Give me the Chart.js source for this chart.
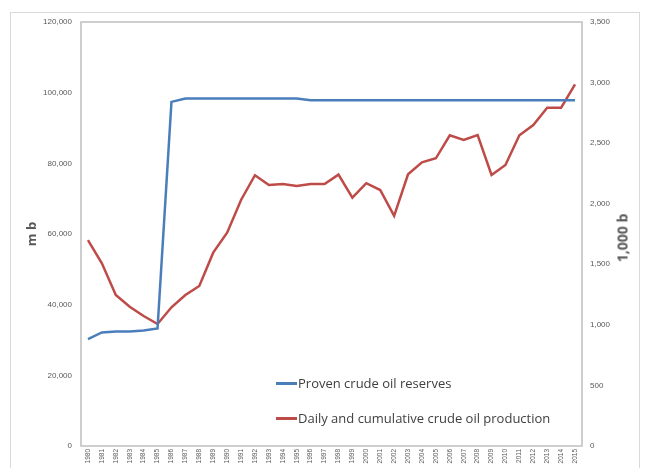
<!DOCTYPE html>
<html>
<head>
<meta charset="utf-8">
<script src="https://cdn.jsdelivr.net/npm/chart.js@4.4.1/dist/chart.umd.min.js"></script>
<style>
  html, body { margin:0; padding:0; background:#fff; }
  #wrap { position:relative; width:645px; height:468px; overflow:hidden; }
  #frame { position:absolute; left:10px; top:12px; width:630px; height:470px; border:1px solid #d9d9d9; box-sizing:border-box; }
  canvas { position:absolute; left:0; top:0; }
  .leg { position:absolute; left:276px; font:13px "Open Sans", sans-serif; color:#404040; white-space:nowrap; }
  .leg i { display:inline-block; width:21px; height:3px; vertical-align:middle; margin-right:1px; position:relative; top:-1px; }
  #rtitle { position:absolute; left:622px; top:238px; transform:translate(-50%,-50%) rotate(-90deg);
            font:bold 14px "Open Sans", sans-serif; color:#595959; white-space:nowrap; }
</style>
</head>
<body>
<div id="wrap">
  <div id="frame"></div>
  <canvas id="c" width="645" height="468"></canvas>
  <div class="leg" style="top:374px"><i style="background:#4a7ebb"></i>Proven crude oil reserves</div>
  <div class="leg" style="top:409px"><i style="background:#be4b48"></i>Daily and cumulative crude oil production</div>
  <div id="rtitle">1,000 b</div>
</div>
<script>
// years on the x axis
const years = [];
for (let y = 1980; y <= 2015; y++) years.push(String(y));

// proven reserves, million barrels (left axis)
const reserves = [30270, 32140, 32430, 32430, 32700, 33280, 97390, 98350, 98350, 98350,
  98350, 98350, 98350, 98350, 98350, 98350, 97870, 97870, 97870, 97870,
  97870, 97870, 97870, 97870, 97870, 97870, 97870, 97870, 97870, 97870,
  97870, 97870, 97870, 97870, 97870, 97870];

// production, thousand barrels per day (right axis)
const production = [1700, 1508, 1246, 1150, 1073, 1007, 1145, 1246, 1321, 1596,
  1761, 2031, 2235, 2154, 2163, 2146, 2163, 2163, 2240, 2050,
  2169, 2113, 1899, 2243, 2342, 2375, 2565, 2526, 2567, 2237,
  2320, 2565, 2650, 2793, 2793, 2986];

const tickFont = {family:'"Liberation Sans", sans-serif', size:8};
const tickColor = '#595959';

// grey box round the plot area
const plotBox = {
  id:'plotBox',
  beforeDatasetsDraw(chart) {
    const a = chart.chartArea, ctx = chart.ctx;
    ctx.save();
    ctx.strokeStyle = '#bfbfbf';
    ctx.lineWidth = 1.5;
    ctx.strokeRect(a.left, a.top, a.right - a.left, a.bottom - a.top);
    ctx.restore();
  }
};

new Chart(document.getElementById('c'), {
  type:'line',
  data:{
    labels: years,
    datasets:[
      {label:'Proven crude oil reserves', data:reserves, yAxisID:'y',
       borderColor:'#4a7ebb', borderWidth:2.5, pointRadius:0, tension:0},
      {label:'Daily and cumulative crude oil production', data:production, yAxisID:'y1',
       borderColor:'#be4b48', borderWidth:2.5, pointRadius:0, tension:0}
    ]
  },
  options:{
    responsive:false,
    animation:false,
    layout:{padding:{top:22, left:0, right:0, bottom:0}},
    plugins:{legend:{display:false}, tooltip:{enabled:false}},
    scales:{
      x:{
        offset:true,
        grid:{display:false, drawTicks:false},
        border:{display:false},
        ticks:{font:{family:'"Liberation Sans", sans-serif', size:6.5}, color:tickColor,
               minRotation:90, maxRotation:90, autoSkip:false, padding:3},
        afterFit(s){ s.height = 22; }
      },
      y:{
        position:'left', min:0, max:120000,
        grid:{display:false, drawTicks:false},
        border:{display:false},
        ticks:{stepSize:20000, font:tickFont, color:tickColor, padding:9,
               callback:v => v.toLocaleString('en-US')},
        title:{display:true, text:'m b', color:'#595959',
               font:{family:'"Open Sans", sans-serif', size:13, weight:'bold'}, padding:{top:24, bottom:0}},
        afterFit(s){ s.width = 81; }
      },
      y1:{
        position:'right', min:0, max:3500,
        grid:{display:false, drawTicks:false},
        border:{display:false},
        ticks:{stepSize:500, font:tickFont, color:tickColor, padding:8,
               callback:v => v.toLocaleString('en-US')},
        afterFit(s){ s.width = 63; }
      }
    }
  },
  plugins:[plotBox]
});
</script>
</body>
</html>
